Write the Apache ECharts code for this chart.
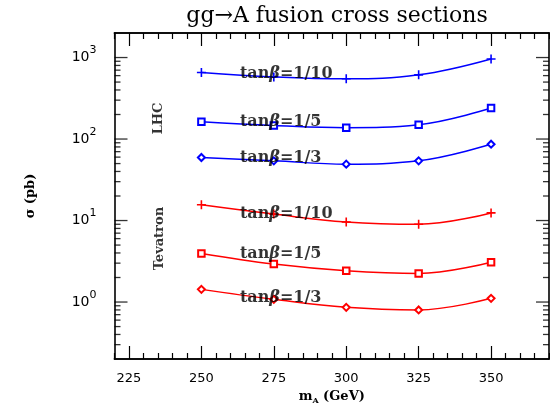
<!DOCTYPE html>
<html><head><meta charset="utf-8">
<script src="https://cdn.jsdelivr.net/npm/echarts@6/dist/echarts.min.js"></script>
<style>html,body{margin:0;padding:0;background:#fff}#c{width:550px;height:410px}</style>
</head><body><div id="c"></div>
<script>
// ---- data ----
const masses = [250, 275, 300, 325, 350];
const lhc_10 = [656, 579, 548, 613, 961];
const lhc_5  = [163, 147, 138, 150, 240];
const lhc_3  = [59.3, 54, 49.2, 54, 86.4];
const tev_10 = [15.6, 12.0, 9.6, 9.0, 12.4];
const tev_5  = [3.94, 2.92, 2.42, 2.24, 3.08];
const tev_3  = [1.43, 1.08, 0.86, 0.80, 1.11];
const xTicks = [225, 250, 275, 300, 325, 350];
const xMinorTicks = [220, 230, 235, 240, 245, 255, 260, 265, 270, 280, 285, 290, 295,
  305, 310, 315, 320, 330, 335, 340, 345, 355, 360, 365, 370];
const yTicks = [1, 10, 100, 1000];
const yMinorTicks = [0.3, 0.4, 0.5, 0.6, 0.7, 0.8, 0.9, 2, 3, 4, 5, 6, 7, 8, 9,
  20, 30, 40, 50, 60, 70, 80, 90, 200, 300, 400, 500, 600, 700, 800, 900];
const curveLabels = ['tanβ=1/10', 'tanβ=1/5', 'tanβ=1/3'];
const lhcLabelY = [625, 163, 58.3];
const tevLabelY = [12.1, 3.9, 1.13];
const labelX = 263.3;
const groupLabels = ['LHC', 'Tevatron'];
const groupLabelPos = [[235.3, 179], [235.5, 6.0]];

// ---- chart ----
const BLUE = '#0000ff', RED = '#ff0000';
const PLUS = 'path://M0,5L10,5M5,0L5,10';
const serif = 'DejaVu Serif';
const X_MIN = 220, X_MAX = 370, Y_MIN = 0.2, Y_MAX = 2000;

function xAxisDef(pos, vals, len, showLabel) {
  return {
    type: 'value', position: pos, min: X_MIN, max: X_MAX,
    axisLine: {show: true, onZero: false, lineStyle: {color: '#000', width: 1.6}},
    axisTick: {show: true, inside: true, length: len, customValues: vals, lineStyle: {color: '#000', width: 1.2}},
    axisLabel: showLabel ? {show: true, customValues: xTicks, margin: 13, color: '#000',
      fontFamily: 'DejaVu Sans', fontSize: 13} : {show: false},
    splitLine: {show: false}
  };
}
function yLogAxis(pos, showLabel) {
  return {
    type: 'log', position: pos, min: Y_MIN, max: Y_MAX, logBase: 10,
    axisLine: {show: true, onZero: false, lineStyle: {color: '#000', width: 1.6}},
    axisTick: {show: false},
    axisLabel: showLabel ? {show: true, customValues: yTicks, margin: 18, color: '#000',
      formatter: v => '{b|10}{s|' + Math.round(Math.log10(v)) + '}',
      rich: {b: {fontFamily: 'DejaVu Sans', fontSize: 14, color: '#000'},
             s: {fontFamily: 'DejaVu Sans', fontSize: 11, color: '#000', padding: [0, 0, 14, 0]}}
    } : {show: false},
    splitLine: {show: false}
  };
}

const xAxes = [
  Object.assign(xAxisDef('bottom', xTicks, 13, true), {
    name: '{m|m}{a|A}{m| (GeV)}', nameLocation: 'middle', nameGap: 29,
    nameTextStyle: {rich: {
      m: {fontFamily: serif, fontSize: 13, fontWeight: 'bold', color: '#000'},
      a: {fontFamily: serif, fontSize: 8, fontWeight: 'bold', color: '#000', padding: [9, 0, 0, 0]}
    }}
  }),
  xAxisDef('bottom', xMinorTicks, 6, false),
  xAxisDef('top', xTicks, 13, false),
  xAxisDef('top', xMinorTicks, 6, false)
];
const yAxes = [
  Object.assign(yLogAxis('left', true), {
    name: 'σ (pb)', nameLocation: 'middle', nameGap: 77, nameRotate: 90,
    nameTextStyle: {fontFamily: serif, fontSize: 13, fontWeight: 'bold', color: '#000'}
  }),
  yLogAxis('right', false)
];

// y-axis ticks (log-spaced majors and minors) as short bar symbols placed by the log scale
function tickScatter(xv, vals, len, dir) {
  return {
    type: 'scatter', xAxisIndex: 0, yAxisIndex: 0, silent: true, clip: false, animation: false, z: 10,
    data: vals.map(v => [xv, v]),
    symbol: 'rect', symbolSize: [len, 1.3], symbolOffset: [dir * len / 2, 0],
    itemStyle: {color: '#000'}
  };
}

function lineSeries(vals, color, symbol, size, bw) {
  return {
    type: 'line', xAxisIndex: 0, yAxisIndex: 0, smooth: 0.4,
    data: masses.map((m, i) => [m, vals[i]]),
    symbol: symbol, symbolSize: size, showAllSymbol: true,
    lineStyle: {color: color, width: 1.5},
    itemStyle: {color: color, borderColor: color, borderWidth: bw},
    z: 3, animation: false
  };
}
const curveRich = {
  t: {fontFamily: serif, fontSize: 16, fontWeight: 'bold', color: '#000'},
  g: {fontFamily: serif, fontSize: 16, fontWeight: 'bold', fontStyle: 'italic', color: '#000'}
};
function richLabel(s) {
  const i = s.indexOf('β');
  return '{t|' + s.slice(0, i) + '}{g|β}{t|' + s.slice(i + 1) + '}';
}
const annot = {
  type: 'scatter', xAxisIndex: 0, yAxisIndex: 0, symbolSize: 0, z: 5, animation: false,
  silent: true,
  data: curveLabels.map((s, i) => ({value: [labelX, lhcLabelY[i]], name: s}))
    .concat(curveLabels.map((s, i) => ({value: [labelX, tevLabelY[i]], name: s}))),
  label: {show: true, position: 'right', distance: 0, formatter: p => richLabel(p.name), rich: curveRich}
};
const groupAnnot = {
  type: 'scatter', xAxisIndex: 0, yAxisIndex: 0, symbolSize: 0, z: 5, animation: false,
  silent: true,
  data: groupLabels.map((s, i) => ({value: groupLabelPos[i], name: s})),
  label: {show: true, position: 'inside', rotate: 90, formatter: p => p.name,
    fontFamily: serif, fontSize: 13, fontWeight: 'bold', color: '#000'}
};

const chart = echarts.init(document.getElementById('c'), null, {renderer: 'canvas'});
chart.setOption({
  animation: false,
  backgroundColor: '#fff',
  title: {text: 'gg→A fusion cross sections', left: 332, top: 0, textAlign: 'center',
    textStyle: {fontFamily: serif, fontSize: 22, fontWeight: 'normal', color: '#000'}},
  grid: {left: 114.5, top: 33, right: 1, bottom: 51, outerBoundsMode: 'none'},
  xAxis: xAxes,
  yAxis: yAxes,
  series: [
    lineSeries(lhc_10, BLUE, PLUS, 9, 1.6),
    lineSeries(lhc_5, BLUE, 'emptyRect', 6.5, 1.3),
    lineSeries(lhc_3, BLUE, 'emptyDiamond', 7, 1.3),
    lineSeries(tev_10, RED, PLUS, 9, 1.6),
    lineSeries(tev_5, RED, 'emptyRect', 6.5, 1.3),
    lineSeries(tev_3, RED, 'emptyDiamond', 7, 1.3),
    annot, groupAnnot,
    tickScatter(X_MIN, yTicks, 13, 1),
    tickScatter(X_MIN, yMinorTicks, 6, 1),
    tickScatter(X_MAX, yTicks, 13, -1),
    tickScatter(X_MAX, yMinorTicks, 6, -1)
  ]
});
</script></body></html>
